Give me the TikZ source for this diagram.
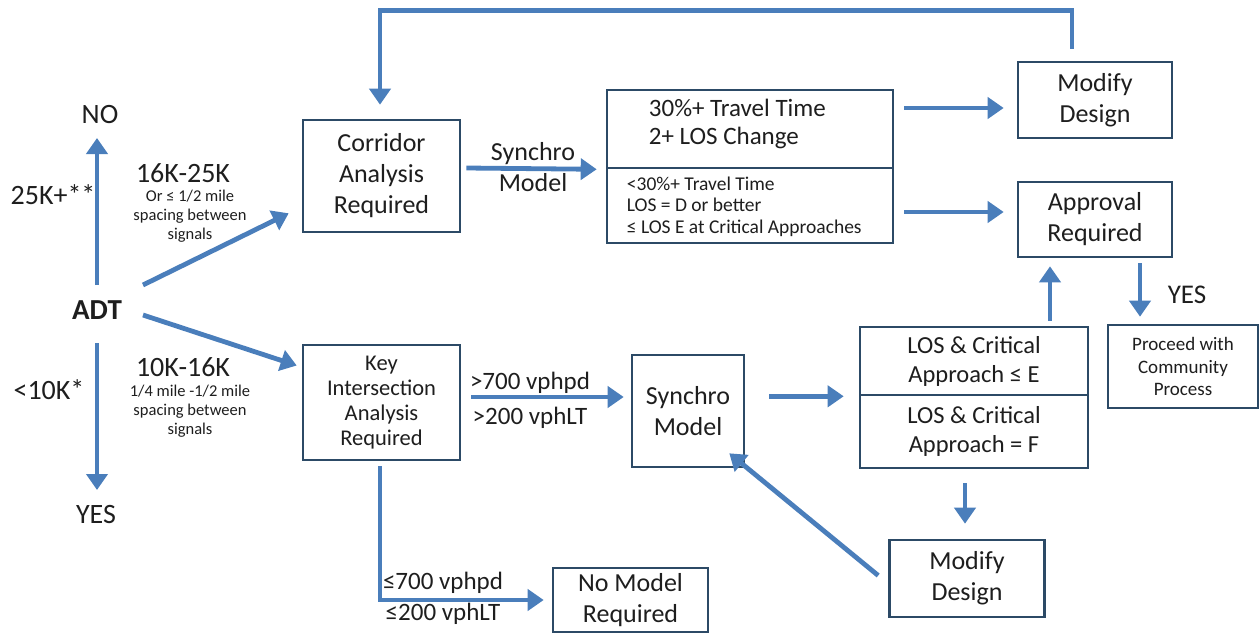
\documentclass[tikz,border=0pt]{standalone}
\usepackage{fontspec}
\setmainfont{Carlito}
\usetikzlibrary{arrows.meta,calc}
\definecolor{arrc}{HTML}{4A7EBB}
\definecolor{boxc}{HTML}{2C4A66}
\definecolor{txtc}{HTML}{1E1E1E}
\tikzset{
  bx/.style={draw=boxc, line width=2.6pt, fill=white, inner sep=0pt, align=center, text=txtc},
  arr/.style={draw=arrc, line width=4.8pt, -{Triangle[width=21pt,length=16pt]}},
  big/.style={font=\fontsize{26}{31}\selectfont, text=txtc, align=center, inner sep=0pt},
  lbl/.style={font=\fontsize{28}{31}\selectfont, text=txtc, align=center, inner sep=0pt},
  los/.style={font=\fontsize{24.5}{29}\selectfont, text=txtc, align=center, inner sep=0pt},
  mid/.style={font=\fontsize{22.5}{25}\selectfont, text=txtc, align=center, inner sep=0pt},
  sm/.style={font=\fontsize{19.5}{21.5}\selectfont, text=txtc, inner sep=0pt},
  prc/.style={font=\fontsize{19}{22.5}\selectfont, text=txtc, inner sep=0pt},
  tiny/.style={font=\fontsize{16.5}{19}\selectfont, text=txtc, align=center, inner sep=0pt},
}
\begin{document}
\begin{tikzpicture}[x=1pt,y=-1pt]
\useasboundingbox (0,0) rectangle (1260,635);
% left labels
\node[lbl] (no) at (100,115) {NO};
\node[lbl] (yes) at (96,515) {YES};
\node[lbl, font=\fontsize{29}{31}\selectfont\bfseries] (adt) at (97,310) {ADT};
\node[lbl] (l25) at (53,195) {25K+**};
\node[lbl] (l10) at (49,390) {<10K*};
\node[lbl] (l1625) at (183,173) {16K-25K};
\node[tiny] (l1625s) at (190,216) {Or ≤ 1/2 mile\\spacing between\\signals};
\node[lbl] (l1016) at (183,367) {10K-16K};
\node[tiny] (l1016s) at (190,411) {1/4 mile -1/2 mile\\spacing between\\signals};
% boxes
\node[bx, big, minimum width=157pt, minimum height=112pt] (corr) at (381.5,176) {Corridor\\Analysis\\Required};
\node[bx, mid, minimum width=157pt, minimum height=115pt] (key) at (381.5,402.5) {Key\\Intersection\\Analysis\\Required};
\node[bx, minimum width=286pt, minimum height=78pt] (crit1) at (750,129) {};
\node[bx, minimum width=286pt, minimum height=75pt] (crit2) at (750,205.5) {};
\node[big, font=\fontsize{25}{28}\selectfont, anchor=west, align=left] (crit1t) at ($(crit1.west)+(43,-5)$) {30\%+ Travel Time\\2+ LOS Change};
\node[sm, anchor=west, align=left] (crit2t) at ($(crit2.west)+(21,1)$) {<30\%+ Travel Time\\LOS = D or better\\≤ LOS E at Critical Approaches};
\node[bx, big, minimum width=154pt, minimum height=76pt] (mod1) at (1095,100) {Modify\\Design};
\node[bx, big, minimum width=154pt, minimum height=75pt] (appr) at (1095,219.5) {Approval\\Required};
\node[bx, prc, align=center, minimum width=150pt, minimum height=83pt] (proc) at (1183,366.5) {Proceed with\\Community\\Process};
\node[bx, los, minimum width=228pt, minimum height=68pt] (los1) at (974,361) {LOS \& Critical\\Approach ≤ E};
\node[bx, los, minimum width=228pt, minimum height=73pt] (los2) at (974,431.5) {LOS \& Critical\\Approach = F};
\node[bx, big, minimum width=112pt, minimum height=112pt] (syn) at (688,411) {Synchro\\Model};
\node[bx, big, minimum width=155pt, minimum height=77pt] (mod2) at (967,578.5) {Modify\\Design};
\node[bx, big, minimum width=155pt, minimum height=64pt] (nomod) at (630.5,600) {No Model\\Required};
% connector labels
\node[big] (lsyn) at (533,167) {Synchro\\Model};
\node[big, font=\fontsize{25}{31}\selectfont] (l700a) at (530,383) {>700 vphpd};
\node[big, font=\fontsize{25}{31}\selectfont] (l200a) at (530,418) {>200 vphLT};
\node[big, font=\fontsize{25}{31}\selectfont] (l700b) at (443,583) {≤700 vphpd};
\node[big, font=\fontsize{25}{31}\selectfont] (l200b) at (443,614) {≤200 vphLT};
\node[lbl, font=\fontsize{27}{31}\selectfont] (lyes) at (1187,295) {YES};
% connectors
\draw[arr] ($(mod1.north)+(-23,-12)$) |- ($(corr.north)+(-1.5,-108)$) -- ($(corr.north)+(-1.5,-14)$);
\draw[arr] ($(adt.center)+(0,-25)$) -- ($(no.center)+(-3,23)$);
\draw[arr] ($(adt.center)+(0,33)$) -- ($(yes.center)+(1,-25)$);
\draw[arr] ($(adt.center)+(46,-25)$) -- ($(corr.south west)+(-13,-20)$);
\draw[arr] ($(adt.center)+(46,5)$) -- ($(key.west)+(-5,-37)$);
\draw[arr] ($(corr.east)+(5,-8)$) -- ($(crit1.south west)+(-9,0)$);
\draw[arr] ($(crit1.east)+(10,-21)$) -- ($(mod1.west)+(-13,8)$);
\draw[arr] ($(crit2.east)+(10,6.5)$) -- ($(appr.west)+(-13,-7.5)$);
\draw[arr] ($(appr.south)+(45,5)$) -- ($(proc.north)+(-43,-7)$);
\draw[arr] ($(los1.north)+(76,-5)$) -- ($(appr.south)+(-45,8)$);
\draw[arr] ($(syn.east |- los1.south west)+(24,0)$) -- ($(los1.south west)+(-15,0)$);
\draw[arr] ($(key.east)+(10,-5.5)$) -- ($(syn.west)+(-7,-14)$);
\draw[arr] ($(los2.south)+(-9,14)$) -- ($(mod2.north)+(-2,-15)$);
\draw[arr] ($(mod2.west)+(-10,-3)$) -- ($(syn.south east)+(-16,-15)$);
\draw[arr] ($(key.south)+(-1.5,5)$) |- ($(nomod.west)+(-8,0)$);
\end{tikzpicture}
\end{document}
